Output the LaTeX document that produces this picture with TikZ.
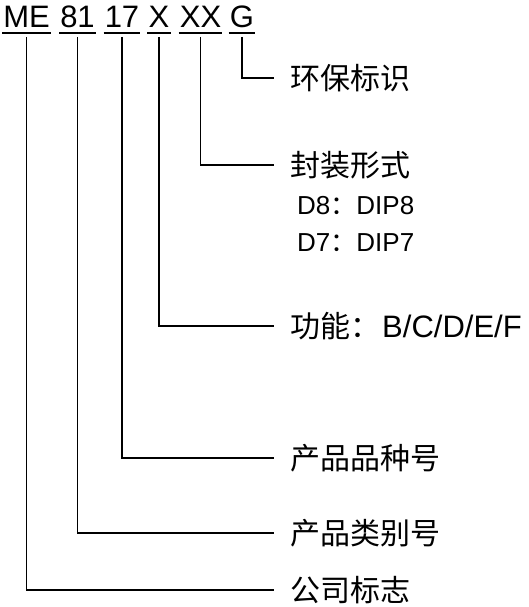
\documentclass[tikz,border=0pt]{standalone}
\usepackage{fontspec}
\setmainfont{Liberation Sans}
\newfontfamily\cjk{Noto Sans CJK SC}
\tikzset{
	code/.style={inner sep=0pt, anchor=base, font=\fontsize{31}{37}\selectfont},
	lbl/.style={anchor=west, inner xsep=16pt, inner ysep=0pt, font=\fontsize{30}{36}\selectfont\cjk},
	pkg/.style={anchor=west, inner sep=0pt, font=\fontsize{26}{31}\selectfont},
	uline/.style={line width=1.6pt},
	link/.style={line width=1.6pt, shorten <=9pt}
}

\begin{document}
\begin{tikzpicture}[line cap=butt,line join=miter,x=1pt,y=-1pt]
	\useasboundingbox (0,0) rectangle (529,607);
	% code parts
	\node [code] (me) at (26.5,28) {ME};
	\node [code] (cat) at (77.5,28) {81};
	\node [code] (var) at (122,28) {17};
	\node [code] (fun) at (159,28) {X};
	\node [code] (pak) at (200.5,28) {XX};
	\node [code] (env) at (242,28) {G};
	\foreach \n in {me,cat,var,fun,pak,env}
		\draw [uline] ([xshift=-1pt,yshift=-5pt]\n.base west) -- ([xshift=1pt,yshift=-5pt]\n.base east);
	% labels
	\node [lbl] (lenv) at (274,78) {环保标识};
	\node [lbl] (lpak) at (274,165) {封装形式};
	\node [pkg] (d8) at (297,206) {D8{\cjk ：}DIP8};
	\node [pkg] (d7) at (297,243) {D7{\cjk ：}DIP7};
	\node [lbl] (lfun) at (274,326) {功能：\hspace{2pt}{\rmfamily\fontsize{31}{36}\selectfont B/C/D/E/F}};
	\node [lbl] (lvar) at (274,458) {产品品种号};
	\node [lbl] (lcat) at (274,533) {产品类别号};
	\node [lbl] (lme) at (274,590) {公司标志};
	% connectors
	\draw [link] (env.base) |- (lenv.west);
	\draw [link] (pak.base) |- (lpak.west);
	\draw [link] (fun.base) |- (lfun.west);
	\draw [link] (var.base) |- (lvar.west);
	\draw [link] (cat.base) |- (lcat.west);
	\draw [link] (me.base) |- (lme.west);
\end{tikzpicture}
\end{document}
